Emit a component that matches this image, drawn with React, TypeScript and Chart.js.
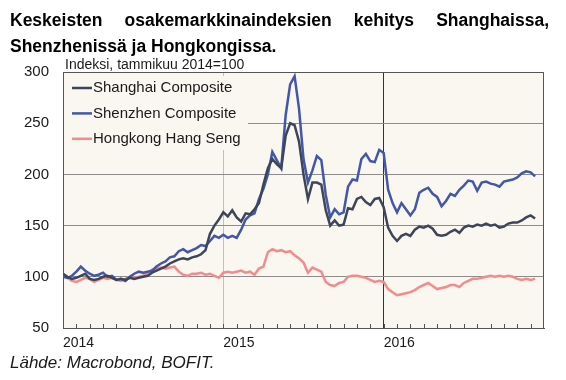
import React, { useEffect, useRef } from "react";
import { Chart, registerables } from "chart.js";

Chart.register(...registerables);

// x positions: months since Jan 2014, three observations per month
const shanghai = [
  103, 100, 98, 99, 101, 103, 98, 97, 98, 100, 101, 99, 97, 98, 97, 99, 98, 99,
  100, 101, 104, 106, 108, 110, 113, 115, 117, 118, 117, 119, 120, 122, 126, 142, 150, 156,
  163, 159, 165, 158, 154, 162, 161, 166, 172, 190, 206, 215, 210, 206, 238, 250, 248, 232,
  200, 176, 192, 192, 190, 165, 150, 155, 150, 151, 167, 166, 176, 178, 173, 170, 176, 177,
  168, 148, 140, 135, 140, 142, 140, 146, 149, 148, 150, 147, 141, 140, 141, 144, 146, 143,
  148, 150, 149, 151, 150, 152, 150, 151, 148, 149, 152, 153, 153, 155, 158, 160, 157,
];
const shenzhen = [
  100, 99, 101, 105, 110, 106, 103, 101, 102, 104, 100, 101, 97, 98, 96, 100, 103, 105,
  104, 105, 106, 110, 113, 115, 119, 120, 125, 127, 124, 126, 128, 131, 130, 135, 140, 138,
  141, 138, 140, 138, 146, 156, 160, 162, 176, 186, 200, 222, 214, 206, 258, 288, 296, 264,
  215, 192, 204, 218, 214, 180, 158, 166, 161, 163, 188, 195, 194, 215, 220, 213, 212, 224,
  221, 185, 172, 163, 172, 166, 160, 166, 182, 185, 187, 181, 178, 169, 174, 181, 179, 185,
  189, 194, 193, 184, 192, 193, 191, 190, 188, 193, 194, 195, 197, 201, 203, 202, 198,
];
const hangSeng = [
  103, 99, 96, 95, 97, 99, 98, 95, 97, 99, 98, 99, 97, 96, 98, 100, 99, 100,
  101, 104, 107, 108, 109, 108, 109, 110, 105, 102, 101, 103, 103, 104, 102, 103, 101, 99,
  104, 105, 104, 105, 106, 104, 105, 102, 108, 110, 124, 127, 125, 126, 124, 125, 121, 118,
  114, 104, 109, 107, 105, 95, 92, 91, 94, 95, 100, 101, 101, 100, 99, 97, 95, 96,
  95, 88, 85, 82, 83, 84, 85, 87, 90, 92, 94, 91, 88, 89, 90, 92, 92, 90,
  94, 96, 98, 98, 99, 100, 101, 100, 101, 100, 101, 100, 98, 97, 98, 97, 98,
];
const monthPos = shanghai.map((_, i) => i / 3);

const seriesNames = ["Shanghai Composite", "Shenzhen Composite", "Hongkong Hang Seng"];
const seriesColors = ["#3D4659", "#4257A8", "#F28B8B"];
const yearTicks = [0, 12, 24, 36];
const yearLabels = ["2014", "2015", "2016", ""];
const yTicks = [50, 100, 150, 200, 250, 300];

const FONT = '"Liberation Sans", Arial, sans-serif';
const PLOT_BG = "#FAF6F0";

const decorPlugin = {
  id: "decor",
  beforeDraw(chart: any) {
    const { ctx, chartArea: a } = chart;
    ctx.save();
    ctx.fillStyle = PLOT_BG;
    ctx.fillRect(a.left, a.top, a.right - a.left, a.bottom - a.top);
    ctx.restore();
  },
  beforeDatasetsDraw(chart: any) {
    const { ctx, chartArea: a } = chart;
    const xs = chart.scales.x;
    ctx.save();
    // minor month ticks
    ctx.strokeStyle = "#555";
    ctx.lineWidth = 1;
    for (let m = 1; m < 36; m++) {
      const px = Math.round(xs.getPixelForValue(m)) + 0.5;
      ctx.beginPath();
      ctx.moveTo(px, a.bottom);
      ctx.lineTo(px, a.bottom - 4);
      ctx.stroke();
    }
    // legend box
    ctx.fillStyle = PLOT_BG;
    ctx.fillRect(a.left + 1, a.top + 4, 247 - a.left, 150 - a.top - 4);
    // top / right border
    ctx.strokeStyle = "#555";
    ctx.beginPath();
    ctx.moveTo(a.left, a.top + 0.5);
    ctx.lineTo(a.right - 0.5, a.top + 0.5);
    ctx.lineTo(a.right - 0.5, a.bottom);
    ctx.stroke();
    // legend entries
    ctx.font = `15px ${FONT}`;
    ctx.textBaseline = "middle";
    ctx.textAlign = "left";
    chart.data.datasets.forEach((ds: any, i: number) => {
      const y = 88 + i * 25.4;
      ctx.strokeStyle = ds.borderColor;
      ctx.lineWidth = 2.5;
      ctx.beginPath();
      ctx.moveTo(72, y);
      ctx.lineTo(92, y);
      ctx.stroke();
      ctx.fillStyle = "#1a1a1a";
      ctx.fillText(ds.label, 93, y);
    });
    ctx.restore();
  },
};

export default function App() {
  const ref = useRef<HTMLCanvasElement>(null);
  useEffect(() => {
    if (!ref.current) return;
    const seriesData = [shanghai, shenzhen, hangSeng];
    const chart = new Chart(ref.current, {
      type: "line",
      data: {
        datasets: seriesData.map((vals, k) => ({
          label: seriesNames[k],
          data: vals.map((v, i) => ({ x: monthPos[i], y: v })),
          borderColor: seriesColors[k],
          backgroundColor: seriesColors[k],
          borderWidth: 2.5,
          pointRadius: 0,
          tension: 0,
        })),
      },
      options: {
        responsive: false,
        animation: false,
        devicePixelRatio: 1,
        layout: { padding: { left: 0, right: 22, top: 72, bottom: 0 } },
        plugins: { legend: { display: false }, tooltip: { enabled: false } },
        scales: {
          x: {
            type: "linear",
            min: 0,
            max: 36,
            afterBuildTicks: (axis: any) => {
              axis.ticks = yearTicks.map((v) => ({ value: v }));
            },
            afterFit: (axis: any) => {
              axis.height = 52;
            },
            ticks: {
              align: "start",
              padding: 7,
              maxRotation: 0,
              autoSkip: false,
              color: "#1a1a1a",
              font: { family: FONT, size: 14 },
              callback: (v: any) => yearLabels[yearTicks.indexOf(Number(v))] ?? "",
            },
            grid: {
              drawTicks: false,
              lineWidth: 1,
              color: (c: any) => {
                const v = c.tick ? c.tick.value : -1;
                if (v === 12) return "#C4BFB7";
                if (v === 24) return "#333333";
                return "rgba(0,0,0,0)";
              },
            },
            border: { display: true, color: "#555", width: 1 },
          },
          y: {
            min: 50,
            max: 300,
            afterBuildTicks: (axis: any) => {
              axis.ticks = yTicks.map((v) => ({ value: v }));
            },
            afterFit: (axis: any) => {
              axis.width = 63;
            },
            ticks: {
              padding: 14,
              color: "#1a1a1a",
              font: { family: FONT, size: 15 },
            },
            grid: { drawTicks: false, color: "#8C8C8C", lineWidth: 1 },
            border: { display: true, color: "#555", width: 1 },
          },
        },
      },
      plugins: [decorPlugin],
    } as any);
    return () => chart.destroy();
  }, []);

  return (
    <div
      style={{
        position: "fixed",
        left: 0,
        top: 0,
        width: 566,
        height: 380,
        background: "#fff",
        fontFamily: FONT,
        color: "#000",
      }}
    >
      <canvas ref={ref} width={566} height={380} style={{ position: "absolute", left: 0, top: 0 }} />
      <div
        style={{
          position: "absolute",
          left: 10,
          top: 7,
          width: 539,
          fontWeight: "bold",
          fontSize: 17.5,
          lineHeight: "26px",
          textAlign: "justify",
        }}
      >
        Keskeisten osakemarkkinaindeksien kehitys Shanghaissa, Shenzhenissä ja Hongkongissa.
      </div>
      <div style={{ position: "absolute", left: 65, top: 56, fontSize: 14, lineHeight: "16px", color: "#1a1a1a" }}>
        Indeksi, tammikuu 2014=100
      </div>
      <div style={{ position: "absolute", left: 10, top: 353, fontSize: 17, lineHeight: "20px", fontStyle: "italic", color: "#1a1a1a" }}>
        Lähde: Macrobond, BOFIT.
      </div>
    </div>
  );
}
